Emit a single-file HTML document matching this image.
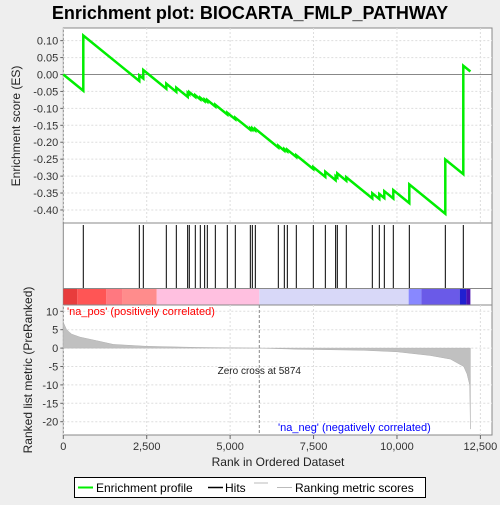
<!DOCTYPE html>
<html><head><meta charset="utf-8"><style>
body{margin:0;background:#eeeeee;font-family:"Liberation Sans",sans-serif;}
svg text{font-family:"Liberation Sans",sans-serif;}
</style></head><body>
<svg width="500" height="500" xmlns="http://www.w3.org/2000/svg">
<rect width="500" height="500" fill="#eeeeee"/>
<text x="250" y="19" text-anchor="middle" font-size="18" font-weight="bold" fill="#000">Enrichment plot: BIOCARTA_FMLP_PATHWAY</text>
<g id="es-panel"></g>
<g id="hits-panel"></g>
<g id="metric-panel"></g>
<g id="legend">
<rect x="74.5" y="477.5" width="351" height="20" fill="#fff" stroke="#000"/>
<line x1="78" y1="487.5" x2="93" y2="487.5" stroke="#00ee00" stroke-width="2"/>
<text x="96" y="492" font-size="12" fill="#000">Enrichment profile</text>
<line x1="208" y1="487.5" x2="223" y2="487.5" stroke="#000" stroke-width="1.5"/>
<text x="225" y="492" font-size="12" fill="#000">Hits</text>
<line x1="254" y1="483" x2="268" y2="483" stroke="#bbb"/>
<line x1="277" y1="487.5" x2="292" y2="487.5" stroke="#bbb"/>
<text x="295" y="492" font-size="12" fill="#000">Ranking metric scores</text>
</g>
</svg>
<script>
const hitRanks=[599,2278,2398,3087,3387,3727,3776,3956,4106,4236,4316,4556,4915,5155,5605,5665,5755,6444,6624,6714,6983,7493,7853,8162,8212,8481,9261,9471,9621,9890,10370,11449,11988];
const hitJumps=[0.163,0.017,0.025,0.015,0.012,0.012,0.006,0.005,0.005,0.005,0.005,0.005,0.005,0.005,0.005,0.005,0.005,0.005,0.005,0.005,0.005,0.006,0.015,0.012,0.012,0.01,0.015,0.015,0.02,0.025,0.055,0.16,0.32];
const missPenalty=0.00008;
const totalRanks=12200;
const metricRanks=[0,100,250,500,1000,1500,2500,4000,5874,7000,9000,10000,11000,11600,12000,12100,12180,12200];
const metricValues=[7,5,3.8,3,2,1,0.5,0.2,0,-0.3,-0.6,-1,-2,-3,-5,-7,-10,-22];
const esTicks=[0.10,0.05,0.00,-0.05,-0.10,-0.15,-0.20,-0.25,-0.30,-0.35,-0.40];
const metricTicks=[10,5,0,-5,-10,-15,-20];
const xTicks=[0,2500,5000,7500,10000,12500];
const xTickLabels=["0","2,500","5,000","7,500","10,000","12,500"];
const colorStops=[[0,"#e83c3c"],[420,"#ff5555"],[1290,"#ff7880"],[1760,"#ff8c8c"],[2800,"#ffc0e0"],[5874,"#d8d8f8"],[10350,"#8888ff"],[10730,"#6a5ae8"],[11880,"#2020d0"],[12080,"#4a10b0"],[12200,null]];

const NS="http://www.w3.org/2000/svg";
const L=63.3,R=492;
const xs=r=>L+r*0.033367;
const esY=v=>74.5-v*338.7;
const mY=v=>348.1-v*3.68;
function el(tag,attrs,parent){const e=document.createElementNS(NS,tag);for(const k in attrs)e.setAttribute(k,attrs[k]);parent.appendChild(e);return e;}
const esG=document.getElementById('es-panel'),hG=document.getElementById('hits-panel'),mG=document.getElementById('metric-panel');
const esFrame=el('rect',{x:L,y:28,width:R-L,height:195,fill:'#fff',stroke:'#888'},esG);


xTicks.forEach(t=>{el('line',{x1:xs(t),x2:xs(t),y1:28,y2:223,stroke:'#ddd','stroke-dasharray':'2,2'},esG);});
esTicks.forEach(t=>{
 el('line',{x1:L,x2:R,y1:esY(t),y2:esY(t),stroke:'#ddd','stroke-dasharray':'2,2'},esG);
 el('line',{x1:L-3,x2:L,y1:esY(t),y2:esY(t),stroke:'#666'},esG);
 const tx=el('text',{x:L-5,y:esY(t)+4,'text-anchor':'end','font-size':11,fill:'#333'},esG);tx.textContent=t.toFixed(2);
 
 
});
el('line',{x1:L,x2:R,y1:esY(0),y2:esY(0),stroke:'#888'},esG);
const yl=el('text',{transform:'translate(20,126) rotate(-90)','text-anchor':'middle','font-size':12,fill:'#222'},esG);yl.textContent='Enrichment score (ES)';


let pts=[[0,0]],es=0,prev=0;
hitRanks.forEach((r,i)=>{es-=missPenalty*(r-prev);pts.push([r,es]);es+=hitJumps[i];pts.push([r,es]);prev=r;});
pts.push([totalRanks,es-missPenalty*(totalRanks-prev)]);
const line=el('polyline',{points:pts.map(p=>xs(p[0]).toFixed(1)+','+esY(p[1]).toFixed(1)).join(' '),fill:'none',stroke:'#00ee00','stroke-width':2.5},esG);


el('rect',{x:L,y:223,width:R-L,height:82,fill:'#fff',stroke:'#888'},hG);
hitRanks.forEach(r=>{const h=el('line',{x1:xs(r),x2:xs(r),y1:225,y2:288,stroke:'#000','stroke-width':1},hG);
 
 });
for(let i=0;i<colorStops.length-1;i++){
 const c=el('rect',{x:xs(colorStops[i][0]),y:288.5,width:xs(colorStops[i+1][0])-xs(colorStops[i][0]),height:16.5,fill:colorStops[i][1]},hG);
 
 
}
el('line',{x1:L,x2:R,y1:288.5,y2:288.5,stroke:'#888'},hG);
el('rect',{x:L,y:305,width:R-L,height:130,fill:'#fff',stroke:'#888'},mG);
xTicks.forEach((t,i)=>{el('line',{x1:xs(t),x2:xs(t),y1:305,y2:435,stroke:'#ddd','stroke-dasharray':'2,2'},mG);
 el('line',{x1:xs(t),x2:xs(t),y1:435,y2:439,stroke:'#666'},mG);
 const tx=el('text',{x:xs(t),y:450,'text-anchor':'middle','font-size':11,fill:'#333'},mG);tx.textContent=xTickLabels[i];
 
 });
metricTicks.forEach(t=>{el('line',{x1:L,x2:R,y1:mY(t),y2:mY(t),stroke:'#ddd','stroke-dasharray':'2,2'},mG);
 el('line',{x1:L-3,x2:L,y1:mY(t),y2:mY(t),stroke:'#666'},mG);
 const tx=el('text',{x:L-5,y:mY(t)+4,'text-anchor':'end','font-size':11,fill:'#333'},mG);tx.textContent=t;
 
 });
let d='M'+xs(0)+','+mY(0);
metricRanks.forEach((r,i)=>{d+=' L'+xs(r).toFixed(1)+','+mY(metricValues[i]).toFixed(1);});
d+=' L'+xs(totalRanks)+','+mY(0)+'Z';
const area=el('path',{d:d,fill:'#c0c0c0',stroke:'#b0b0b0','stroke-width':0.5},mG);


el('line',{x1:xs(5874),x2:xs(5874),y1:305,y2:435,stroke:'#888','stroke-dasharray':'3,2'},mG);
const z=el('text',{x:xs(5874),y:374,'text-anchor':'middle','font-size':10,fill:'#222'},mG);z.textContent='Zero cross at 5874';


const p=el('text',{x:67,y:315,'font-size':11,fill:'#ff0000'},mG);p.textContent="'na_pos' (positively correlated)";


const n=el('text',{x:278,y:431,'font-size':11,fill:'#0000ff'},mG);n.textContent="'na_neg' (negatively correlated)";


const yl2=el('text',{transform:'translate(32,370) rotate(-90)','text-anchor':'middle','font-size':12,fill:'#222'},mG);yl2.textContent='Ranked list metric (PreRanked)';


const xl=el('text',{x:278,y:466,'text-anchor':'middle','font-size':12,fill:'#222'},mG);xl.textContent='Rank in Ordered Dataset';


</script>
</body></html>
